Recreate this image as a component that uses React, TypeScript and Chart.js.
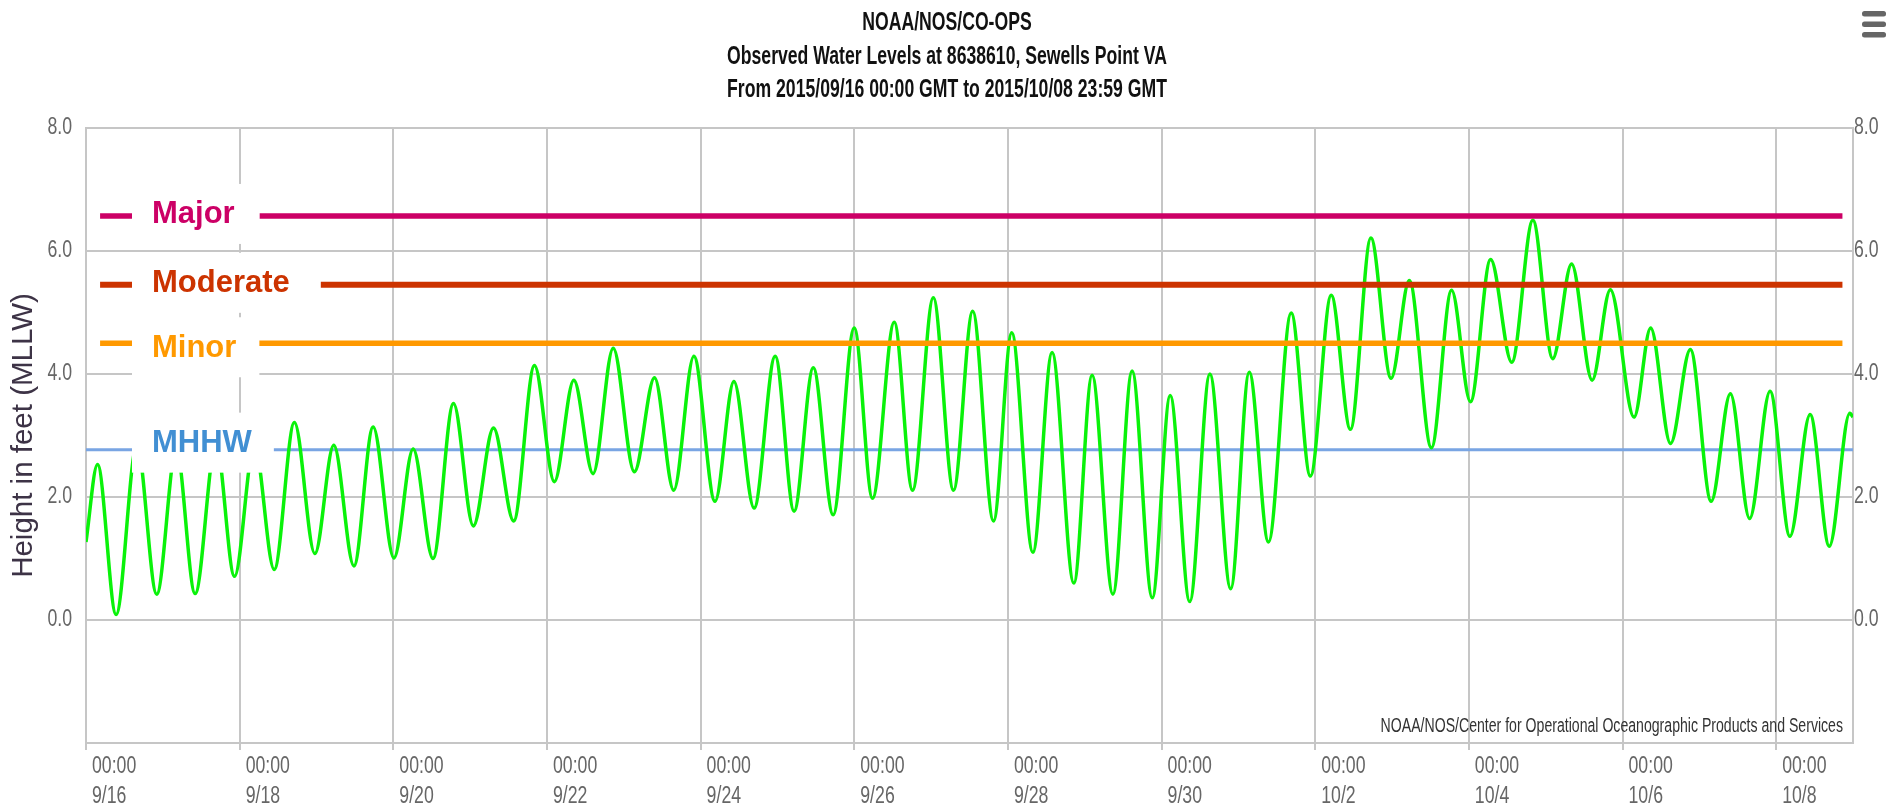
import { useEffect, useRef } from 'react';
import { Chart, registerables, LinearScale } from 'chart.js';
import { renderText } from 'chart.js/helpers';

// ---------- text ----------
const titleLines = [
  'NOAA/NOS/CO-OPS',
  'Observed Water Levels at 8638610, Sewells Point VA',
  'From 2015/09/16 00:00 GMT to 2015/10/08 23:59 GMT',
];
const yAxisTitle = 'Height in feet (MLLW)';
const creditText = 'NOAA/NOS/Center for Operational Oceanographic Products and Services';
const xTickTime = '00:00';
const xTickDates = ['9/16', '9/18', '9/20', '9/22', '9/24', '9/26', '9/28', '9/30', '10/2', '10/4', '10/6', '10/8'];

// ---------- axis ranges (hours since 2015-09-16 00:00 GMT / feet MLLW) ----------
const xMinHour = 0;
const xMaxHour = 552;
const xTickStepHours = 48;
const yMinFeet = -2;
const yMaxFeet = 8;
const yTickStepFeet = 2;

// ---------- observed water level: high / low water turning points ----------
const tideHours = [
  0, 3.6, 9.4, 15.9, 22.1, 28.2, 34.1, 40.6, 46.4, 52.6,
  58.8, 65.1, 71.5, 77.4, 83.7, 89.7, 96.2, 102.2, 108.4, 114.8,
  121.0, 127.3, 133.6, 140.1, 146.3, 152.4, 158.4, 164.7, 171.3, 177.6,
  183.6, 189.9, 196.5, 202.4, 208.7, 215.3, 221.2, 227.2, 233.4, 240.0,
  245.7, 252.5, 258.2, 264.7, 271.0, 277.0, 283.5, 289.2, 295.8, 301.8,
  308.6, 314.3, 320.8, 326.8, 333.1, 338.7, 344.8, 351.1, 357.6, 363.4,
  369.4, 376.5, 382.5, 389.0, 395.0, 401.4, 407.7, 413.4, 420.3, 426.6,
  432.5, 438.8, 445.4, 452.0, 458.2, 464.1, 470.5, 476.2, 483.6, 488.8,
  495.0, 501.2, 507.7, 513.7, 519.7, 526.1, 532.3, 538.6, 544.6, 551.0,
  552,
];
const tideFeet = [
  1.27, 2.53, 0.09, 2.85, 0.42, 2.78, 0.43, 2.88, 0.71, 2.85,
  0.82, 3.21, 1.08, 2.84, 0.88, 3.14, 1.01, 2.78, 1.00, 3.52,
  1.53, 3.12, 1.61, 4.14, 2.25, 3.90, 2.38, 4.42, 2.41, 3.94,
  2.11, 4.29, 1.93, 3.88, 1.82, 4.29, 1.77, 4.10, 1.71, 4.75,
  1.98, 4.84, 2.11, 5.24, 2.11, 5.02, 1.61, 4.67, 1.10, 4.35,
  0.60, 3.98, 0.42, 4.05, 0.36, 3.65, 0.30, 4.00, 0.51, 4.03,
  1.27, 4.99, 2.34, 5.28, 3.10, 6.21, 3.93, 5.52, 2.80, 5.36,
  3.55, 5.86, 4.19, 6.50, 4.25, 5.79, 3.90, 5.37, 3.30, 4.75,
  2.87, 4.40, 1.93, 3.68, 1.65, 3.72, 1.36, 3.34, 1.20, 3.36,
  3.30,
];

// ---------- flood thresholds ----------
const thresholdNames = ['Major', 'Moderate', 'Minor', 'MHHW'];
const thresholdFeet = [6.57, 5.45, 4.5, 2.77];
const thresholdStartHour = [4.4, 4.4, 4.4, 0];
const thresholdEndHour = [548.7, 548.7, 548.7, 552];

// ---------- styles ----------
const ARIAL = '"Liberation Sans", Arial, sans-serif';
const NARROW_SX = 0.77; // horizontal compression to mimic a narrow face
const GRID = '#c6c6c6';
const TICK_COLOR = '#666666';
const tideColor = '#0af20a';
const thresholdLineColors = ['#cc0066', '#cc3300', '#ff9900', '#79a5e3'];
const thresholdTextColors = ['#cc0066', '#cc3300', '#ff9900', '#418fd3'];
const thresholdLineWidths = [5.5, 6, 5.5, 3];
const thresholdOrder = [1, 1, 1, 3];
const labelShift = [-2, -2, 4, -7];
const labelBoxExtra = [25, 31, 23, 22];

// Linear scale whose tick labels are drawn horizontally condensed
class NarrowLinearScale extends (LinearScale as any) {
  static id = 'narrowLinear';
  static defaults = (LinearScale as any).defaults;
  drawLabels(chartArea: any) {
    const self: any = this;
    if (!self.options.ticks.display) return;
    const ctx = self.ctx;
    const items = self.getLabelItems(chartArea);
    for (const item of items) {
      const opts = item.options;
      const [tx, ty] = opts.translation;
      ctx.save();
      ctx.translate(tx, ty);
      ctx.scale(NARROW_SX, 1);
      renderText(ctx, item.label, 0, item.textOffset, item.font, { ...opts, translation: [0, 0] });
      ctx.restore();
    }
  }
}

Chart.register(...registerables, NarrowLinearScale as any);

const thresholdLabelPlugin = {
  id: 'thresholdLabels',
  afterDatasetsDraw(chart: any) {
    const { ctx, chartArea, scales } = chart;
    const y = scales.y;
    ctx.save();
    ctx.font = `bold 31px ${ARIAL}`;
    ctx.textBaseline = 'middle';
    ctx.textAlign = 'left';
    thresholdNames.forEach((name, i) => {
      const cy = y.getPixelForValue(thresholdFeet[i]) + labelShift[i];
      const textX = chartArea.left + 66;
      const w = ctx.measureText(name).width;
      const boxLeft = chartArea.left + 46;
      ctx.fillStyle = '#ffffff';
      ctx.fillRect(boxLeft, cy - 30, textX - boxLeft + w + labelBoxExtra[i], 60);
      ctx.fillStyle = thresholdTextColors[i];
      ctx.fillText(name, textX, cy + 1);
    });
    ctx.restore();
  },
};

const decorPlugin = {
  id: 'decor',
  afterDraw(chart: any) {
    const { ctx, chartArea, width } = chart;
    ctx.save();
    // title
    ctx.font = `bold 25px ${ARIAL}`;
    ctx.fillStyle = '#111111';
    ctx.textAlign = 'center';
    ctx.textBaseline = 'alphabetic';
    titleLines.forEach((line, i) => {
      ctx.save();
      ctx.translate(width / 2 - 2, 29.6 + i * 33.9);
      ctx.scale(0.705, 1);
      ctx.fillText(line, 0, 0);
      ctx.restore();
    });
    // credit
    ctx.font = `20px ${ARIAL}`;
    ctx.fillStyle = '#333333';
    ctx.textAlign = 'right';
    ctx.textBaseline = 'middle';
    ctx.save();
    ctx.translate(chartArea.right - 10, chartArea.bottom - 17);
    ctx.scale(0.705, 1);
    ctx.fillText(creditText, 0, 0);
    ctx.restore();
    // context menu icon
    ctx.fillStyle = '#666666';
    const x0 = width - 36;
    [11, 21.5, 32].forEach((yy) => {
      ctx.beginPath();
      if ((ctx as any).roundRect) (ctx as any).roundRect(x0, yy, 24, 5.5, 2.5);
      else ctx.rect(x0, yy, 24, 5.5);
      ctx.fill();
    });
    ctx.restore();
  },
};

export default function App() {
  const ref = useRef<HTMLCanvasElement | null>(null);

  useEffect(() => {
    if (!ref.current) return;
    const tidePoints = tideHours.map((h, i) => ({ x: h, y: tideFeet[i] }));
    const thresholdSets = thresholdNames.map((name, i) => ({
      label: name,
      data: [
        { x: thresholdStartHour[i], y: thresholdFeet[i] },
        { x: thresholdEndHour[i], y: thresholdFeet[i] },
      ],
      borderColor: thresholdLineColors[i],
      borderWidth: thresholdLineWidths[i],
      pointRadius: 0,
      borderCapStyle: 'butt',
      fill: false,
      order: thresholdOrder[i],
    }));

    const yTicksCommon = {
      stepSize: yTickStepFeet,
      color: TICK_COLOR,
      font: { family: ARIAL, size: 23 },
      callback: (v: any) => (Number(v) === yMinFeet ? '' : Number(v).toFixed(1)),
    };

    const chart = new Chart(ref.current, {
      type: 'line',
      data: {
        datasets: [
          {
            label: 'Observed',
            data: tidePoints,
            borderColor: tideColor,
            borderWidth: 3.5,
            pointRadius: 0,
            cubicInterpolationMode: 'monotone',
            fill: false,
            order: 2,
          } as any,
          ...(thresholdSets as any[]),
        ],
      },
      options: {
        animation: false,
        responsive: false,
        devicePixelRatio: 1,
        layout: { padding: { top: 128, left: 0, right: 0, bottom: 0 } },
        plugins: {
          legend: { display: false },
          tooltip: { enabled: false },
          title: { display: false },
        },
        scales: {
          x: {
            type: 'narrowLinear',
            position: 'bottom',
            min: xMinHour,
            max: xMaxHour,
            afterFit: (s: any) => {
              s.height = 67;
            },
            ticks: {
              stepSize: xTickStepHours,
              includeBounds: false,
              autoSkip: false,
              maxRotation: 0,
              minRotation: 0,
              align: 'start',
              labelOffset: 6,
              padding: 2,
              color: TICK_COLOR,
              font: { family: ARIAL, size: 23, lineHeight: 30 / 23 },
              callback: (v: any) => [xTickTime, xTickDates[Math.round(Number(v) / xTickStepHours)] ?? ''],
            },
            grid: { color: GRID, lineWidth: 2, tickLength: 7, drawTicks: true, tickColor: GRID },
            border: { display: true, color: GRID, width: 2 },
          },
          y: {
            type: 'narrowLinear',
            position: 'left',
            min: yMinFeet,
            max: yMaxFeet,
            afterFit: (s: any) => {
              s.width = 86;
            },
            ticks: { ...yTicksCommon, padding: 14 },
            grid: { color: GRID, lineWidth: 2, drawTicks: false },
            border: { display: true, color: GRID, width: 2 },
            title: {
              display: true,
              text: yAxisTitle,
              color: '#3d3346',
              font: { family: ARIAL, size: 29.5, lineHeight: 1.2 },
              padding: { top: 6, bottom: 0 },
            },
          },
          y2: {
            type: 'narrowLinear',
            position: 'right',
            min: yMinFeet,
            max: yMaxFeet,
            afterFit: (s: any) => {
              s.width = 45;
            },
            ticks: { ...yTicksCommon, padding: 1 },
            grid: { drawOnChartArea: false, drawTicks: false },
            border: { display: true, color: GRID, width: 2 },
          },
        },
      } as any,
      plugins: [thresholdLabelPlugin, decorPlugin],
    });
    return () => chart.destroy();
  }, []);

  return (
    <div style={{ position: 'fixed', left: 0, top: 0, width: 1898, height: 810, background: '#ffffff' }}>
      <canvas ref={ref} width={1898} height={810} style={{ display: 'block' }} />
    </div>
  );
}
